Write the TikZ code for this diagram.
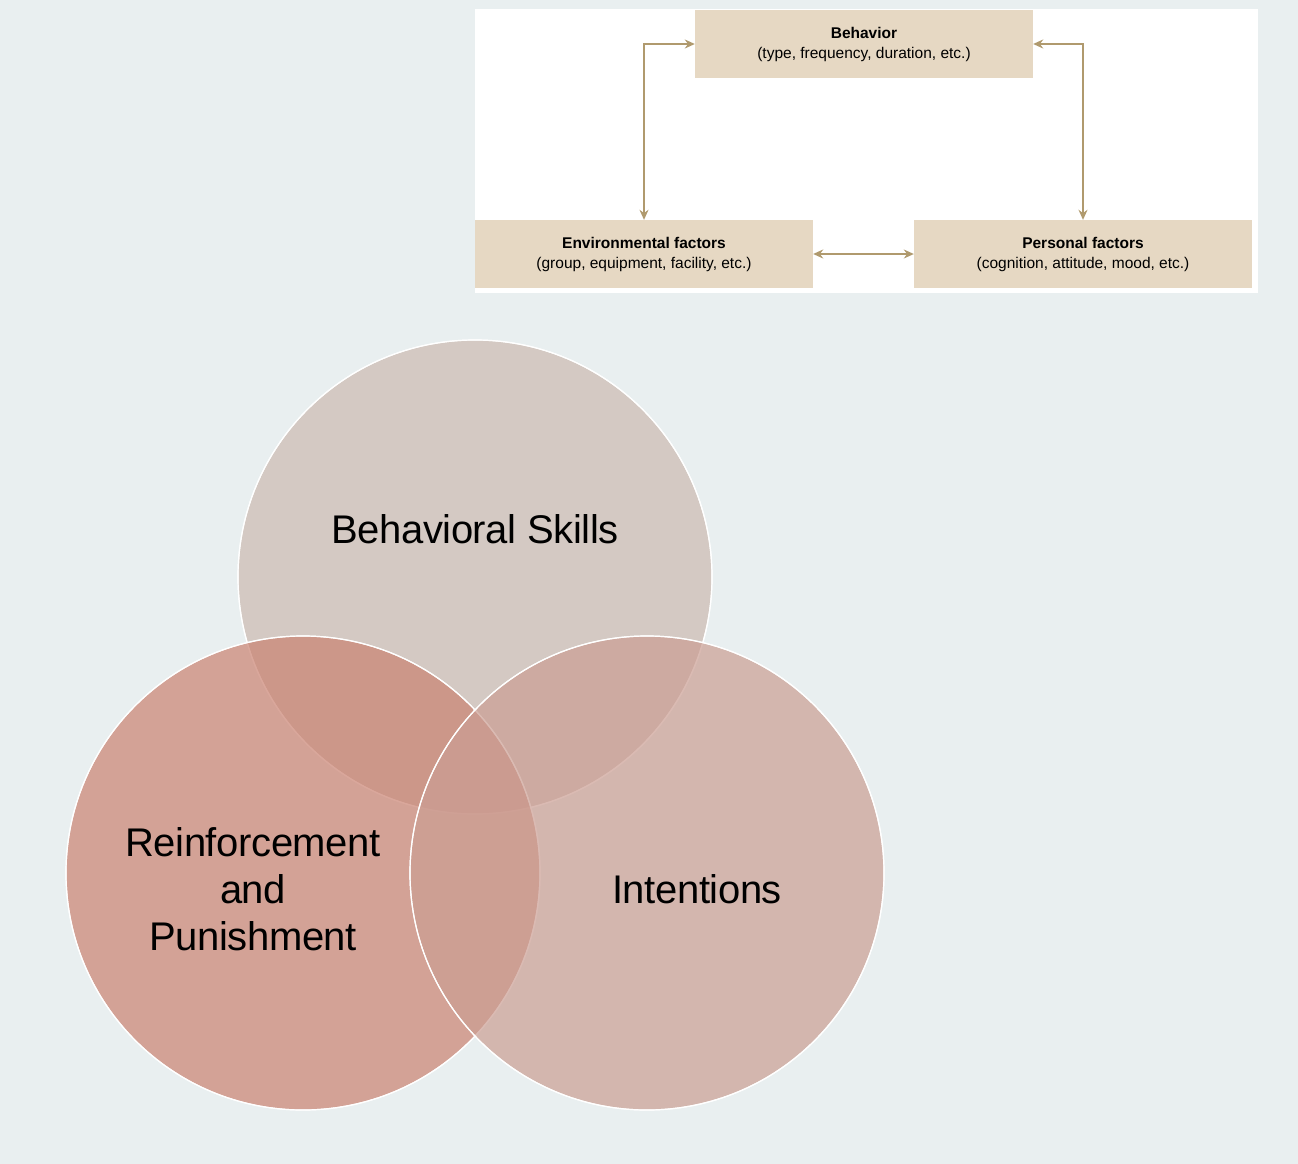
\documentclass[tikz,border=0pt]{standalone}
\usepackage{fontspec}
\setmainfont{Liberation Sans}
\usetikzlibrary{arrows.meta}
\definecolor{bg}{HTML}{E9EFF0}
\definecolor{tan}{HTML}{E6D8C3}
\definecolor{arr}{HTML}{B09A6E}
\definecolor{ctop}{HTML}{CCBAB1}
\definecolor{cleft}{HTML}{CA8271}
\definecolor{cright}{HTML}{CB9E93}
\begin{document}
\begin{tikzpicture}[x=1pt,y=-1pt,
  box/.style={fill=tan,minimum width=338pt,minimum height=68pt,inner sep=0pt,align=center,font=\fontsize{15.5}{20}\selectfont},
  link/.style={draw=arr,line width=1.3pt,{Stealth[length=10pt,width=9pt]}-{Stealth[length=10pt,width=9pt]}},
  venn/.style={draw=white,line width=1.2pt,fill opacity=0.7},
  vlab/.style={font=\fontsize{40}{47}\selectfont\addfontfeatures{LetterSpace=-1},align=center,text=black}]
\fill[bg] (0,0) rectangle (1298,1164);
\useasboundingbox (0,0) rectangle (1298,1164);
\fill[white] (475,9) rectangle (1258,293);
\node[box] (beh) at (864,44) {\textbf{Behavior}\\(type, frequency, duration, etc.)};
\node[box] (env) at (644,254) {\textbf{Environmental factors}\\(group, equipment, facility, etc.)};
\node[box] (per) at (1083,254) {\textbf{Personal factors}\\(cognition, attitude, mood, etc.)};
\draw[link] (beh.west) -| (env.north);
\draw[link] (beh.east) -| (per.north);
\draw[link] (env.east) -- (per.west);
\fill[venn,fill=ctop] (475,577) circle (237);
\draw[white,line width=1.2pt] (475,577) circle (237);
\fill[venn,fill=cleft] (303,873) circle (237);
\draw[white,line width=1.2pt] (303,873) circle (237);
\fill[venn,fill=cright] (647,873) circle (237);
\draw[white,line width=1.2pt] (647,873) circle (237);
\node[vlab] (bs) at (475,529) {Behavioral Skills};
\node[vlab] (rp) at (253,889) {Reinforcement\\and\\Punishment};
\node[vlab] (in) at (697,889) {Intentions};
\end{tikzpicture}
\end{document}
